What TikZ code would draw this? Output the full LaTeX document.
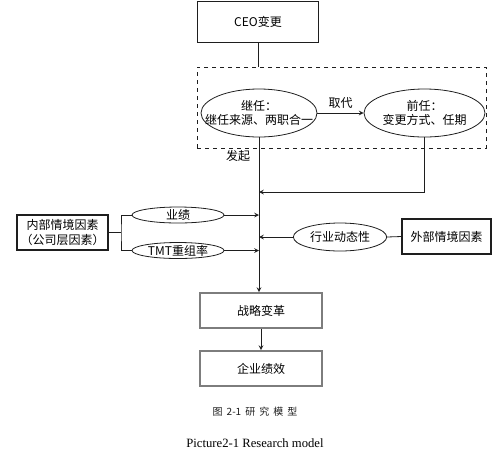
\documentclass[tikz,border=0pt]{standalone}
\usepackage{fontspec}
\setmainfont{Liberation Serif}
\newfontfamily\cjk{Noto Sans CJK SC}
\usepackage{tikz}
\usetikzlibrary{shapes,arrows,positioning,calc}
\definecolor{linegray}{RGB}{30, 30, 30}
\definecolor{boxgray}{RGB}{125, 125, 125}

\begin{document}
\begin{tikzpicture}[x=0.75pt, y=-0.75pt, >=stealth, line width=0.6pt,
    cjktext/.style={font=\cjk\fontsize{9}{11}\selectfont},
    box/.style={rectangle, draw=linegray, cjktext, align=center, inner sep=1pt},
    graybox/.style={box, draw=boxgray, line width=1.4pt, minimum width=91.5pt, minimum height=26.25pt},
    oval/.style={ellipse, draw=linegray, cjktext, align=center, inner sep=0pt},
    conn/.style={draw=linegray}
]
\useasboundingbox (0,0) rectangle (502,465);

% CEO change
\node[box, minimum width=90.75pt, minimum height=30.75pt] (ceo) at (258,22) {CEO变更};
\node[rectangle, draw=linegray, dashed, minimum width=216.75pt, minimum height=60.75pt] (frame) at (341.5,107.5) {};
\node[oval, inner xsep=-10pt, minimum width=87pt, minimum height=36pt] (succ) at (259,113) {继任：\\继任来源、两职合一};
\node[oval, inner xsep=-3pt, minimum width=90.75pt, minimum height=36pt] (pred) at (424.5,113) {前任：\\变更方式、任期};
\draw[conn] (ceo.south) -- (ceo.south |- frame.north);
\draw[conn, ->] (succ.east) -- (pred.west) node[midway, above, cjktext] (replace) {取代};

% Main axis
\node[graybox] (strat) at (261,310.5) {战略变革};
\node[graybox] (perf) at (261,368.5) {企业绩效};
\draw[conn, ->] (succ.south) -- (succ.south |- strat.north);
\draw[conn, ->] (strat.south) -- (perf.north);
\node[cjktext] (start) at (238,156) {发起};
\coordinate (j1) at (259,192);
\draw[conn, ->] (pred.south) |- (j1);

% Internal factors
\node[box, line width=1pt, minimum width=68.25pt, minimum height=26.25pt] (inner) at (62.5,232.5) {内部情境因素\\（公司层因素）};
\node[oval, minimum width=69pt, minimum height=12pt] (yj) at (178,215) {业绩};
\node[oval, minimum width=69pt, minimum height=12pt] (tmt) at (178,250.5) {TMT重组率};
\coordinate (br) at (121,232.5);
\draw[conn] (inner.east) -- (br);
\draw[conn] (yj.west) -| (br) |- (tmt.west);
\draw[conn, ->] (yj.east) -- (yj.east -| succ.south);
\draw[conn, ->] (tmt.east) -- (tmt.east -| succ.south);

% External factors
\node[oval, minimum width=70pt, minimum height=21pt] (ind) at (340,237) {行业动态性};
\node[box, line width=1pt, minimum width=66.75pt, minimum height=26.25pt] (outer) at (446.5,236.5) {外部情境因素};
\draw[conn] (outer.west) -- (ind.east);
\draw[conn, ->] (ind.west) -- (ind.west -| succ.south);

% Caption
\node[font=\cjk\fontsize{7.5}{9}\selectfont, text=linegray] (capcn) at (255,412) {图\hspace{3pt}2-1\hspace{3pt}研\hspace{3pt}究\hspace{3pt}模\hspace{3pt}型};
\node[font=\fontsize{9.5}{11}\selectfont] (capen) at (255,443) {Picture2-1 Research model};
\end{tikzpicture}
\end{document}
